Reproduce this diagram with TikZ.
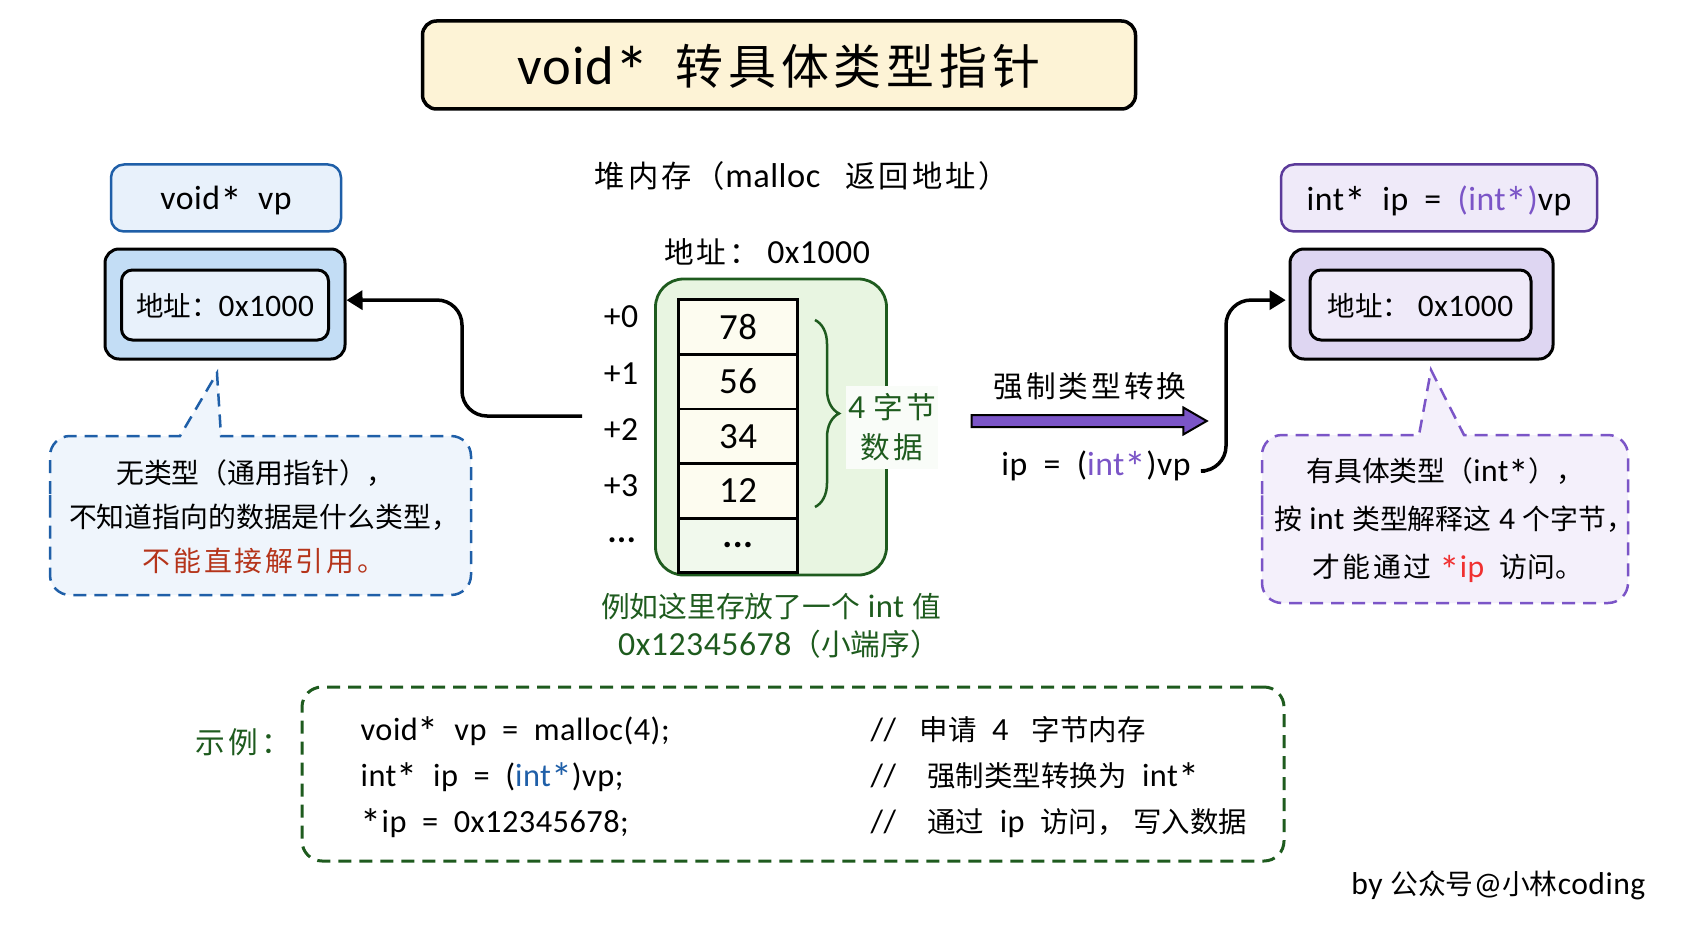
\documentclass[tikz,border=0pt]{standalone}
\usepackage{fontspec}
\setmainfont[LetterSpace=1.5]{Carlito}
\newfontfamily\cjk[Scale=0.88]{Noto Sans CJK SC}
\newfontfamily\cjkwide[Scale=0.88, LetterSpace=10]{Noto Sans CJK SC}
\newcommand{\zh}[1]{{\cjk #1}}
\newcommand{\zw}[1]{{\cjkwide #1}}
\newcommand{\ptrstar}{\raisebox{-0.45ex}{\scalebox{1.3}{*}}}
\usepackage{xcolor}
\usetikzlibrary{arrows.meta, positioning, shapes.arrows, decorations.pathreplacing}
\definecolor{inkgreen}{HTML}{1E5B1E}
\definecolor{inkblue}{HTML}{1F5FA8}
\definecolor{inkpurple}{HTML}{5B3A9A}
\definecolor{midpurple}{HTML}{7B55C7}
\definecolor{paleblue}{HTML}{E8F1FB}
\definecolor{midblue}{HTML}{C3DDF5}
\definecolor{palepurple}{HTML}{EFEAF9}
\definecolor{softpurple}{HTML}{DED6F2}
\definecolor{palegreen}{HTML}{E8F5E1}
\definecolor{cream}{HTML}{FDF3D6}
\definecolor{cellcream}{HTML}{FDFCF0}
\definecolor{warnred}{HTML}{B5341A}
\definecolor{hotred}{HTML}{F03030}

\begin{document}
\begin{tikzpicture}[x=0.1mm, y=-0.1mm,
titlenode/.style={rectangle, rounded corners=1.4mm, draw=black, line width=0.35mm, fill=cream, minimum width=71.3mm, minimum height=8.8mm, text depth=0pt, text height=11.3pt, font=\fontsize{15.5}{18}\selectfont},
varnode/.style={rectangle, rounded corners=1.3mm, line width=0.25mm, minimum height=6.7mm, text depth=0pt, font=\fontsize{9.6}{12}\selectfont},
outernode/.style={rectangle, rounded corners=1.4mm, draw=black, line width=0.3mm, minimum height=11mm},
innernode/.style={rectangle, rounded corners=1.1mm, draw=black, line width=0.3mm, minimum height=7mm, text depth=0pt, font=\fontsize{8.9}{12}\selectfont},
cellnode/.style={rectangle, draw=black, line width=0.28mm, fill=cellcream, outer sep=0pt, minimum width=11.9mm, minimum height=5.46mm, font=\fontsize{10.5}{12}\selectfont},
textnode/.style={font=\fontsize{9.6}{12}\selectfont, inner sep=0pt},
greentext/.style={textnode, text=inkgreen},
codenode/.style={font=\fontsize{9.2}{12}\selectfont, inner sep=0pt, anchor=base west},
ptrarrow/.style={line width=0.35mm, rounded corners=2.5mm, -{Triangle[length=1.6mm,width=1.9mm]}},
bubbleblue/.style={draw=inkblue, fill=paleblue!70, line width=0.25mm, dash pattern=on 1.3mm off 0.8mm},
bubblepurple/.style={draw=midpurple, fill=palepurple!70, line width=0.25mm, dash pattern=on 1.3mm off 0.8mm},
]
\useasboundingbox (0,0) rectangle (1693,929);
%Title
\node[titlenode] (Title) at (779,65) {void\ptrstar~~\zw{转具体类型指针}};

%Left pointer
\node[varnode, draw=inkblue, fill=paleblue, minimum width=23mm] (VPName) at (226,198) {void\ptrstar~~vp};
\node[outernode, fill=midblue, minimum width=24mm] (VPOuter) at (225,304) {};
\node[innernode, fill=paleblue, minimum width=20.7mm] (VPInner) at (225,305) {\zh{地址：}0x1000};
\draw[bubbleblue] (50,515) [rounded corners=2mm] |- (120,436) [sharp corners] -- (180,436) -- (217,373) -- (221,436) -- (300,436) [rounded corners=2mm] -| (471,595) -| (50,515) [sharp corners] -- cycle;
\node[textnode, align=center, font=\fontsize{9}{12.5}\selectfont] (VPNote) at (264,517) {\zh{无类型（通用指针），}\hspace*{1.7mm}\\\zh{不知道指向的数据是什么类型，}\\\textcolor{warnred}{\zw{不能直接解引用。}}};

%Heap
\node[textnode, font=\fontsize{9.8}{12}\selectfont] (HeapTitle) at (802,176) {\zw{堆内存（}malloc~~~\zw{返回地址）}};
\node[textnode] (HeapAddr) at (767,252) {\zw{地址：}~0x1000};
\node[rectangle, rounded corners=2.8mm, draw=inkgreen, line width=0.28mm, fill=palegreen, minimum width=23.1mm, minimum height=29.6mm] (HeapBox) at (771,427) {};
\node[cellnode] (C0) at (738,327) {78};
\node[cellnode] (C1) [below=0pt of C0] {56};
\node[cellnode] (C2) [below=0pt of C1] {34};
\node[cellnode] (C3) [below=0pt of C2] {12};
\node[cellnode, fill=palegreen!60!white] (C4) [below=0pt of C3] {\textbf{...}};
\node[textnode] (Off0) at (621,317) {+0};
\node[textnode] (Off1) at (621,374) {+1};
\node[textnode] (Off2) at (621,430) {+2};
\node[textnode] (Off3) at (621,486) {+3};
\node[textnode] (Off4) at (622,540) {\textbf{...}};
\draw[inkgreen, line width=0.25mm, decorate, decoration={brace, amplitude=2.4mm, aspect=0.5}] (815,320) -- (815,507);
\node[greentext, align=center, fill=palegreen!25!white, minimum width=9.2mm, minimum height=8.3mm, font=\fontsize{9.6}{11.4}\selectfont] (FourBytes) at (892,427) {4~\zw{字节}\\\zw{数据}};
\node[greentext, font=\fontsize{9.3}{12}\selectfont] (Caption1) at (771,607) {\zh{例如这里存放了一个} int \zh{值}};
\node[greentext] (Caption2) at (779,644) {0x12345678\zh{（小端序）}};

%Cast
\node[textnode] (CastLabel) at (1090,386) {\zw{强制类型转换}};
\node[single arrow, draw=black, line width=0.2mm, fill=midpurple, inner ysep=0.5mm, inner xsep=0pt, minimum width=2.5mm, minimum height=23.5mm, single arrow head extend=0.75mm, single arrow tip angle=60, single arrow head indent=0pt] (CastArrow) at (1084,421) {};
\node[textnode] (CastCode) at (1096,467) {ip~~=~~(\textcolor{midpurple}{int\ptrstar})vp};

%Right pointer
\node[varnode, draw=inkpurple, fill=palepurple, minimum width=31.6mm] (IPName) at (1439,198) {int\ptrstar~~ip~~=~~\textcolor{midpurple}{(int\ptrstar)}vp};
\node[outernode, fill=softpurple, minimum width=26.3mm] (IPOuter) at (1421.5,304) {};
\node[innernode, fill=palepurple, minimum width=22.1mm] (IPInner) at (1420.5,305) {\zh{地址：}~0x1000};
\draw[bubblepurple] (1262,515) [rounded corners=2mm] |- (1330,435) [sharp corners] -- (1419,435) -- (1431,370) -- (1464,435) -- (1520,435) [rounded corners=2mm] -| (1628,603) -| (1262,515) [sharp corners] -- cycle;
\node[textnode, align=center, font=\fontsize{9}{13.6}\selectfont] (IPNote) at (1454,521) {\zh{有具体类型（}int\ptrstar\zh{），}\hspace*{1.7mm}\\\zh{按}~int~\zh{类型解释这}~4~\zh{个字节，}\\\zw{才能通过}~\textcolor{hotred}{\ptrstar ip}~~\zh{访问。}\hspace*{1.3mm}};

%Connectors
\coordinate (HeapOut) at (582,416);
\coordinate (CastOut) at (1205,471);
\draw[ptrarrow] (HeapOut) -- (462,416) -- (462,300) -- ([yshift=1.1pt]VPOuter.east);
\draw[ptrarrow] (CastOut) -- (1226,471) -- (1226,300) -- ([xshift=-0.8pt,yshift=1.1pt]IPOuter.west);

%Example code
\node[greentext, anchor=west] (ExLabel) at (195,742) {\zw{示例：}};
\node[rectangle, rounded corners=2mm, draw=inkgreen, line width=0.3mm, dash pattern=on 1.3mm off 0.8mm, minimum width=98.2mm, minimum height=17.4mm] (CodeBox) at (793,774) {};
\node[codenode] (L1) at (360,740) {void\ptrstar~~vp~~=~~malloc(4);};
\node[codenode] (L2) at (360,786) {int\ptrstar~~ip~~=~~(\textcolor{inkblue}{int\ptrstar})vp;};
\node[codenode] (L3) at (360,832) {\ptrstar ip~~=~~0x12345678;};
\node[codenode] (R1) at (870,740) {//~~~\zh{申请}~~4~~~\zh{字节内存}};
\node[codenode] (R2) at (870,786) {//~~~~\zh{强制类型转换为}~~int\ptrstar};
\node[codenode] (R3) at (870,832) {//~~~~\zh{通过}~~ip~~\zh{访问，}~\zh{写入数据}};

%Credit
\node[textnode, anchor=east, font=\fontsize{9}{12}\selectfont] (Credit) at (1646,885) {by~\zh{公众号}@\zh{小林}coding};
\end{tikzpicture}
\end{document}
